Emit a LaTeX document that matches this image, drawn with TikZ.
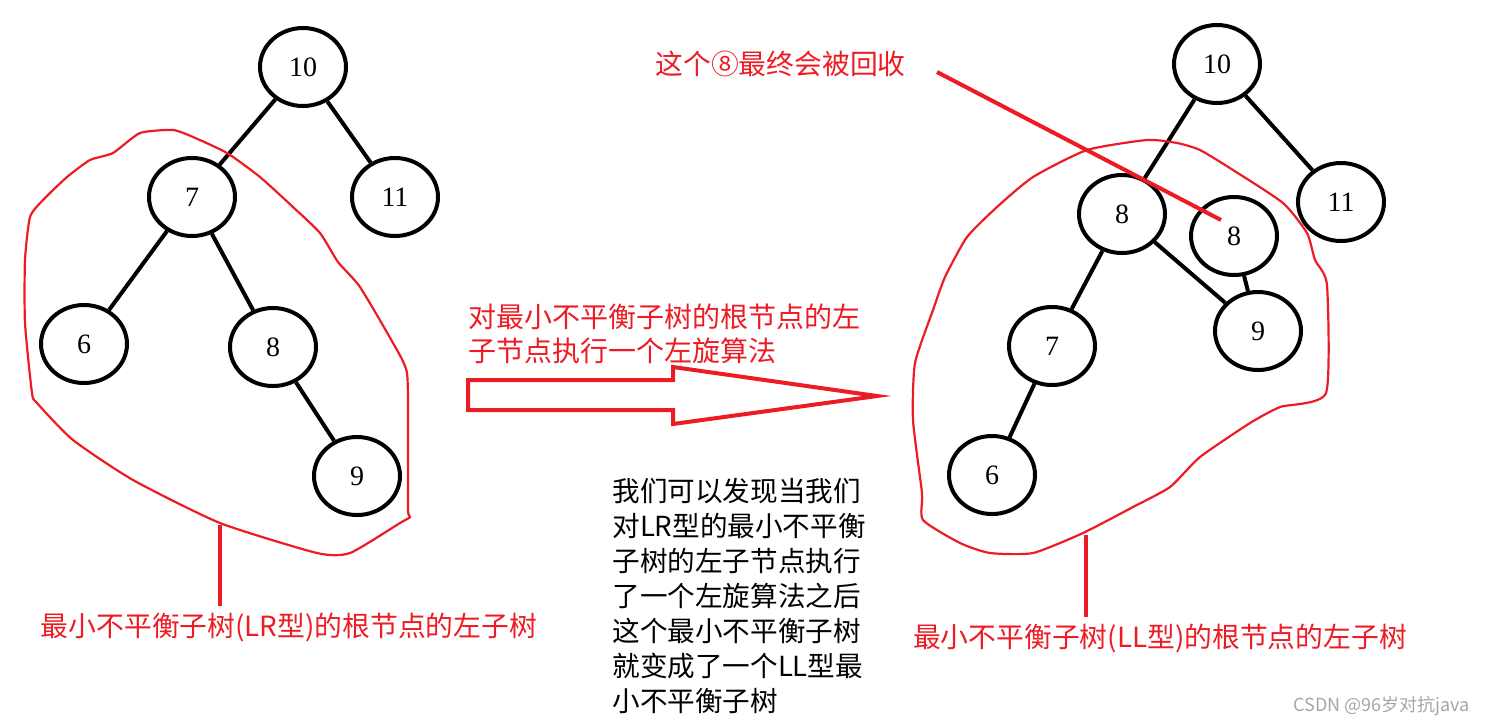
\documentclass[tikz,border=0pt]{standalone}
\usepackage{fontspec}
\setmainfont{Liberation Serif}
\newfontfamily\cjk{Noto Sans CJK SC}
\usetikzlibrary{shapes.geometric}
\definecolor{paintred}{HTML}{ED1C24}

\begin{document}
\begin{tikzpicture}[x=0.5pt,y=-0.5pt,
        treenode/.style={draw, ellipse, line width=2pt, minimum width=43pt, minimum height=39pt, inner sep=0pt, font=\fontsize{14}{16}\selectfont},
        edge/.style={line width=2pt},
        blob/.style={draw=paintred, line width=1.1pt},
        pointer/.style={draw=paintred, line width=2.3pt},
        redtext/.style={text=paintred, font=\cjk\fontsize{13.9}{17}\selectfont},
        blacktext/.style={align=left, inner sep=0pt, font=\cjk\fontsize{13.8}{17.5}\selectfont}]
        \useasboundingbox (0,0) rectangle (1487,725);
        % left tree (LR)
        \node[treenode] (L10) at (303,67) {10};
        \node[treenode] (L7) at (192,197) {7};
        \node[treenode] (L11) at (395,197) {11};
        \node[treenode] (L6) at (84,344) {6};
        \node[treenode] (L8) at (273,347) {8};
        \node[treenode] (L9) at (357,476) {9};
        \draw[edge] (L10) -- (L7);
        \draw[edge] (L10) -- (L11);
        \draw[edge] (L7) -- (L6);
        \draw[edge] (L7) -- (L8);
        \draw[edge] (L8) -- (L9);
        \draw[blob] plot[smooth cycle, tension=0.35] coordinates {(30,217) (43,200) (67,177) (90,160) (113,153) (140,133) (173,130) (193,137) (227,153) (260,177) (293,207) (320,233) (338,262) (360,287) (393,343) (407,373) (408,440) (408,510) (410,517) (400,523) (350,553) (317,553) (220,523) (133,480) (73,440) (37,403) (32,393) (25,323) (25,260)};
        \coordinate (Lfoot) at (220,525);
        \node[redtext, anchor=north] (Llabel) at (289,606) {最小不平衡子树(LR型)的根节点的左子树};
        \draw[pointer] (Lfoot) -- (Lfoot |- Llabel.north);
        % hollow arrow with its caption
        \node[redtext, align=left, anchor=west, inner sep=0pt, font=\cjk\fontsize{14}{17}\selectfont] (step) at (468,334) {对最小不平衡子树的根节点的左\\子节点执行一个左旋算法};
        \draw[paintred, line width=2pt, line join=miter] (468,380) -- (673,380) -- (673,367) -- (877,396) -- (673,424) -- (673,410) -- (468,410) -- cycle;
        \node[blacktext, anchor=west] (note) at (612,596) {我们可以发现当我们\\对LR型的最小不平衡\\子树的左子节点执行\\了一个左旋算法之后\\这个最小不平衡子树\\就变成了一个LL型最\\小不平衡子树};
        % right tree (LL)
        \node[treenode] (R10) at (1217,64) {10};
        \node[treenode] (R8) at (1122,214) {8};
        \node[treenode] (R8b) at (1234,236) {8};
        \node[treenode] (R11) at (1341,202) {11};
        \node[treenode] (R7) at (1052,346) {7};
        \node[treenode] (R9) at (1258,331) {9};
        \node[treenode] (R6) at (992,475) {6};
        \draw[edge] (R10) -- (R8);
        \draw[edge] (R10) -- (R11);
        \draw[edge] (R8) -- (R7);
        \draw[edge] (R8) -- (R9);
        \draw[edge] (R8b) -- (R9);
        \draw[edge] (R7) -- (R6);
        \draw[blob] plot[smooth cycle, tension=0.35] coordinates {(945,277) (967,237) (997,207) (1033,177) (1087,150) (1147,140) (1177,143) (1200,150) (1233,170) (1283,203) (1307,233) (1315,260) (1327,285) (1326,393) (1280,407) (1250,423) (1200,457) (1170,487) (1133,507) (1083,533) (1033,553) (990,553) (960,543) (923,520) (922,493) (913,420) (915,363) (933,310)};
        \node[redtext, anchor=west, inner sep=0pt] (gone) at (655,64) {这个⑧最终会被回收};
        \coordinate (goneTail) at (937,72);
        \coordinate (goneTip) at (1221,220);
        \draw[pointer, line width=2pt] (goneTail) -- (goneTip);
        \coordinate (Rfoot) at (1086,535);
        \node[redtext, anchor=north] (Rlabel) at (1160,617) {最小不平衡子树(LL型)的根节点的左子树};
        \draw[pointer] (Rfoot) -- (Rfoot |- Rlabel.north);
        \node[text=black!35, anchor=east, font=\cjk\fontsize{9}{11}\selectfont] (mark) at (1477,706) {CSDN @96岁对抗java};
\end{tikzpicture}
\end{document}
